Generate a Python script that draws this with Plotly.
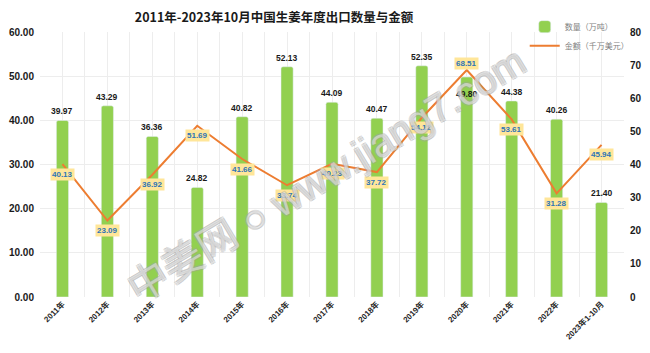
import plotly.graph_objects as go

categories = ["2011年", "2012年", "2013年", "2014年", "2015年", "2016年", "2017年",
              "2018年", "2019年", "2020年", "2021年", "2022年", "2023年1-10月"]
quantity = [39.97, 43.29, 36.36, 24.82, 40.82, 52.13, 44.09, 40.47, 52.35, 49.80, 44.38, 40.26, 21.40]
amount = [40.13, 23.09, 36.92, 51.69, 41.66, 33.74, 40.23, 37.72, 54.12, 68.51, 53.61, 31.28, 45.94]
left_ticks = [0, 10, 20, 30, 40, 50, 60]
right_ticks = [0, 10, 20, 30, 40, 50, 60, 70, 80]

title_text = "2011年-2023年10月中国生姜年度出口数量与金额"
name_q = "数量（万吨）"
name_a = "金额（千万美元）"
watermark = "中姜网 ○ www.jiang7.com"

GREEN = "#92D050"
ORANGE = "#ED7D31"
NUM_FONT = "Liberation Sans, Arial, sans-serif"
CJK_FONT = "Noto Sans CJK SC, sans-serif"

idx = list(range(len(categories)))
peak = amount.index(max(amount))

fig = go.Figure()
fig.add_trace(go.Bar(
    x=idx, y=quantity, name=name_q, marker=dict(color=GREEN, cornerradius=2),
    width=0.27, yaxis="y", hoverinfo="skip",
))
fig.add_trace(go.Scatter(
    x=idx, y=amount, name=name_a, mode="lines",
    line=dict(color=ORANGE, width=2), yaxis="y2", hoverinfo="skip",
))

ann = []
# bar value labels
for i, v in zip(idx, quantity):
    ann.append(dict(
        x=i, y=v, xref="x", yref="y", text=f"{v:.2f}", showarrow=False,
        yshift=(-17 if i == peak else 9),
        font=dict(family=NUM_FONT, size=8.5, color="#1a1a1a", weight="bold"),
    ))
# line value labels
for i, v in zip(idx, amount):
    ann.append(dict(
        x=i, y=v, xref="x", yref="y2", text=f"{v:.2f}", showarrow=False,
        yshift=(7 if i == peak else -10),
        bgcolor="#FFE699", borderpad=1,
        font=dict(family=NUM_FONT, size=8, color="#2E75B6", weight="bold"),
    ))
# watermark
ann.append(dict(
    x=0.49, y=0.46, xref="paper", yref="paper", text=watermark, showarrow=False,
    textangle=-31,
    font=dict(family="Liberation Sans, " + CJK_FONT, size=40, color="rgba(255,255,255,0.45)",
              shadow="-1px -1px 0 rgba(160,160,160,0.8), 1px -1px 0 rgba(160,160,160,0.8), "
                     "-1px 1px 0 rgba(160,160,160,0.8), 1px 1px 0 rgba(160,160,160,0.8)"),
))

fig.update_layout(
    width=650, height=353,
    margin=dict(l=40, r=26, t=30, b=56, pad=0),
    paper_bgcolor="white", plot_bgcolor="white",
    title=dict(text=title_text, x=274 / 650, xanchor="center", y=1 - 18 / 353,
               yanchor="middle", xref="container", yref="container",
               font=dict(family=CJK_FONT, size=12.5, color="#1a1a1a", weight="bold")),
    showlegend=True,
    legend=dict(x=0.83, y=1.075, xanchor="left", yanchor="top",
                bgcolor="rgba(0,0,0,0)", font=dict(family=CJK_FONT, size=8, color="#7f7f7f"),
                tracegroupgap=0, itemwidth=30),
    bargap=0.7,
    xaxis=dict(
        range=[-0.5, len(categories) - 0.5], tickmode="array", tickvals=idx, ticktext=categories,
        tickangle=-45, showgrid=True, gridcolor="#EDEDED", gridwidth=1,
        minor=dict(tickmode="linear", tick0=0.5, dtick=1, showgrid=True, gridcolor="#EDEDED", gridwidth=1),
        zeroline=False, showline=False, ticks="",
        tickfont=dict(family=NUM_FONT + ", " + CJK_FONT, size=8, color="#262626", weight="bold"),
        automargin=False,
    ),
    yaxis=dict(
        range=[0, 60], tickmode="array", tickvals=left_ticks, tickformat=".2f",
        showgrid=True, gridcolor="#EDEDED", gridwidth=1, zeroline=False, showline=False,
        tickfont=dict(family=NUM_FONT, size=10, color="#1a1a1a", weight="bold"),
        ticklabelstandoff=5, automargin=False,
    ),
    yaxis2=dict(
        range=[0, 80], tickmode="array", tickvals=right_ticks, overlaying="y", side="right",
        showgrid=False, zeroline=False, showline=False,
        tickfont=dict(family=NUM_FONT, size=10, color="#1a1a1a", weight="bold"),
        ticklabelstandoff=5, automargin=False,
    ),
    annotations=ann,
)

fig.write_html("out.html")
